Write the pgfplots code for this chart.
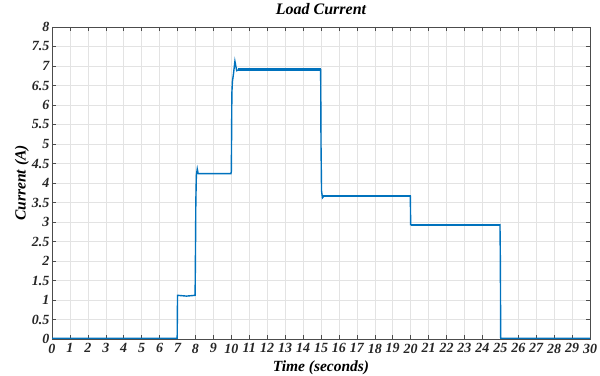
\documentclass[border=0pt]{standalone}
\usepackage{pgfplots}
\pgfplotsset{compat=1.18}
\usepackage{fontspec}
\setmainfont{Liberation Serif}
\definecolor{mblue}{RGB}{0,114,189}
\newcommand{\tl}{\fontsize{14}{16}\selectfont\bfseries\itshape}
\begin{document}
\begin{tikzpicture}
\begin{axis}[
  scale only axis,
  width=538pt, height=312pt,
  xmin=0, xmax=30, ymin=0, ymax=8,
  xtick={0,1,...,30}, ytick={0,0.5,...,8},
  xticklabel={\tl\pgfmathprintnumber[assume math mode=true]{\tick}},
  yticklabel={\tl\pgfmathprintnumber[assume math mode=true,fixed]{\tick}},
  tick label style={text=black!85, inner sep=1.5pt},
  label style={font=\fontsize{15.5}{17}\selectfont\bfseries\itshape},
  title style={font=\fontsize{16}{18}\selectfont\bfseries\itshape, at={(axis description cs:0.5,1.038)}, anchor=center},
  title={Load Current},
  xlabel={Time (seconds)},
  ylabel={Current (A)},
  xlabel style={at={(axis description cs:0.5,-0.092)}, anchor=center},
  ylabel style={at={(axis description cs:-0.056,0.5)}, anchor=center},
  grid=major,
  major grid style={gray!22, line width=0.6pt},
  axis line style={black!70, line width=0.6pt},
  tick style={black!70, line width=0.6pt},
  tick align=inside,
  major tick length=4pt,
  xticklabel style={yshift=-3pt},
  yticklabel style={xshift=-1pt},
]
\addplot[mblue, line width=1.4pt] coordinates {
(0,0.02) (6.98,0.02) (7.0,1.12) (7.5,1.10) (7.98,1.12) (8.0,2.2) (8.02,3.5) (8.05,4.2) (8.1,4.36) (8.15,4.24) (9.98,4.24)
(10.0,4.3) (10.03,6.3) (10.06,6.6) (10.12,6.8) (10.2,7.12) (10.25,7.0) (10.3,6.88) (10.4,6.9) (14.98,6.9)
(15.0,5.0) (15.03,3.8) (15.08,3.62) (15.15,3.66) (19.98,3.66)
(20.0,2.93) (24.98,2.93) (25.0,2.05) (25.02,0.02) (30,0.02)
};
\addplot[mblue, line width=3.2pt] coordinates {(10.35,6.9) (15.0,6.9)};
\addplot[mblue, line width=2pt] coordinates {(15.1,3.66) (20.0,3.66)};
\addplot[mblue, line width=1.8pt] coordinates {(20.0,2.93) (25.0,2.93)};
\end{axis}
\pgfresetboundingbox
\path ([shift={(-52pt,-37pt)}]current axis.south west) rectangle ([shift={(10pt,27pt)}]current axis.north east);
\end{tikzpicture}
\end{document}
